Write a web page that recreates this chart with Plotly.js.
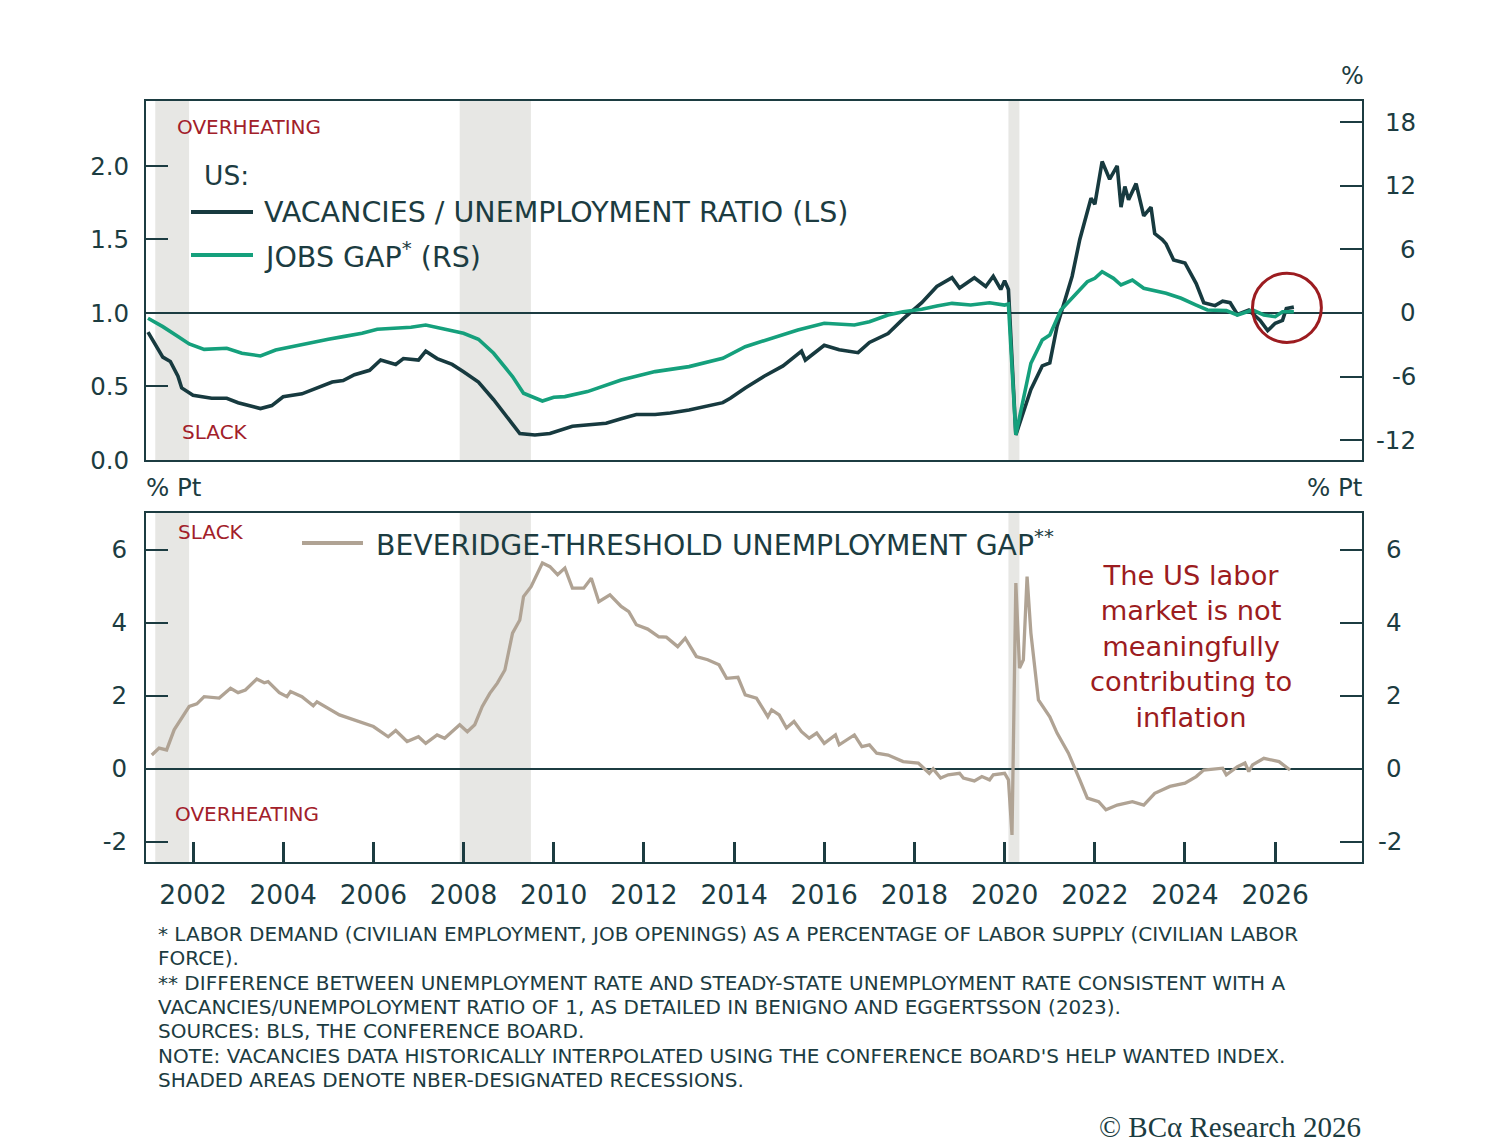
<!DOCTYPE html>
<html>
<head>
<meta charset="utf-8">
<script src="https://cdn.plot.ly/plotly-3.0.1.min.js"></script>
<style>
  html, body { margin: 0; padding: 0; background: #ffffff; }
  #chart { width: 1509px; height: 1144px; }
</style>
</head>
<body>
<div id="chart"></div>
<script>
  // vacancies / unemployment ratio (left scale, top panel)
  const vuDates = ['2001-01','2001-05','2001-07','2001-09','2001-10','2002-01','2002-06','2002-10','2003-01','2003-04',
    '2003-07','2003-10','2004-01','2004-06','2004-10','2005-02','2005-05','2005-08','2005-12','2006-03',
    '2006-07','2006-09','2007-01','2007-03','2007-06','2007-10','2008-01','2008-05','2008-09','2009-02',
    '2009-04','2009-08','2009-12','2010-06','2010-10','2011-03','2011-07','2011-11','2012-04','2012-08',
    '2013-01','2013-05','2013-10','2013-12','2014-04','2014-09','2015-02','2015-07','2015-08','2016-01',
    '2016-05','2016-10','2017-01','2017-06','2017-10','2018-03','2018-07','2018-11','2019-01','2019-05',
    '2019-08','2019-10','2019-12','2020-01','2020-02','2020-04','2020-08','2020-11','2021-01','2021-03',
    '2021-05','2021-07','2021-09','2021-12','2022-01','2022-03','2022-05','2022-07','2022-08','2022-09',
    '2022-10','2022-12','2023-02','2023-04','2023-05','2023-07','2023-08','2023-10','2024-01','2024-04',
    '2024-06','2024-09','2024-11','2025-01','2025-03','2025-06','2025-09','2025-11','2026-01','2026-03',
    '2026-04','2026-06'];
  const vuRatio = [0.87,0.70,0.67,0.57,0.49,0.44,0.42,0.42,0.39,0.37,
    0.35,0.37,0.43,0.45,0.49,0.53,0.54,0.58,0.61,0.68,
    0.65,0.69,0.68,0.74,0.69,0.65,0.60,0.53,0.41,0.25,
    0.18,0.17,0.18,0.23,0.24,0.25,0.28,0.31,0.31,0.32,
    0.34,0.36,0.39,0.42,0.49,0.57,0.64,0.74,0.68,0.78,
    0.75,0.73,0.80,0.86,0.96,1.07,1.18,1.24,1.17,1.24,
    1.18,1.25,1.16,1.22,1.16,0.17,0.48,0.64,0.66,0.91,
    1.07,1.25,1.50,1.78,1.74,2.03,1.91,2.00,1.72,1.86,
    1.77,1.88,1.66,1.72,1.54,1.50,1.47,1.36,1.34,1.20,
    1.07,1.05,1.08,1.07,0.99,1.02,0.95,0.88,0.93,0.95,
    1.03,1.04];

  // jobs gap, % (right scale, top panel)
  const gapDates = ['2001-01','2001-05','2001-09','2001-12','2002-04','2002-10','2003-02','2003-07','2003-11','2004-04',
    '2004-08','2005-01','2005-05','2005-10','2006-02','2006-06','2006-11','2007-03','2007-08','2008-01',
    '2008-05','2008-09','2009-02','2009-05','2009-10','2010-01','2010-04','2010-10','2011-07','2012-04',
    '2013-01','2013-10','2014-04','2014-11','2015-06','2016-01','2016-09','2017-01','2017-06','2017-10',
    '2018-03','2018-07','2018-11','2019-04','2019-09','2020-01','2020-02','2020-04','2020-08','2020-11',
    '2021-01','2021-04','2021-08','2021-11','2022-01','2022-03','2022-06','2022-08','2022-11','2023-02',
    '2023-08','2023-12','2024-04','2024-07','2024-12','2025-03','2025-07','2025-10','2026-01','2026-03',
    '2026-06'];
  const jobsGap = [-0.50,-1.29,-2.23,-2.92,-3.43,-3.33,-3.80,-4.05,-3.49,-3.11,
    -2.86,-2.48,-2.23,-1.92,-1.54,-1.45,-1.35,-1.13,-1.54,-1.92,
    -2.48,-3.80,-6.00,-7.57,-8.30,-7.95,-7.89,-7.42,-6.32,-5.53,
    -5.06,-4.27,-3.18,-2.39,-1.60,-0.97,-1.13,-0.82,-0.19,0.12,
    0.35,0.66,0.91,0.75,0.97,0.75,0.85,-11.5,-4.74,-2.55,
    -2.07,0.28,1.86,2.95,3.27,3.89,3.27,2.64,3.11,2.33,
    1.86,1.39,0.75,0.28,0.22,-0.19,0.28,-0.19,-0.35,0.12,
    0.12];

  // beveridge-threshold unemployment gap, % pt (bottom panel)
  const bevDates = ['2001-02','2001-04','2001-06','2001-08','2001-12','2002-02','2002-04','2002-08','2002-11','2003-01',
    '2003-03','2003-06','2003-08','2003-09','2003-12','2004-02','2004-03','2004-06','2004-09','2004-10',
    '2005-04','2005-08','2006-01','2006-05','2006-07','2006-10','2007-01','2007-03','2007-06','2007-08',
    '2007-12','2008-02','2008-04','2008-06','2008-08','2008-10','2008-12','2009-02','2009-04','2009-05',
    '2009-07','2009-10','2009-12','2010-02','2010-04','2010-06','2010-09','2010-11','2011-01','2011-04',
    '2011-07','2011-09','2011-11','2012-02','2012-05','2012-07','2012-10','2012-12','2013-03','2013-06',
    '2013-09','2013-11','2014-02','2014-04','2014-07','2014-10','2014-11','2015-01','2015-03','2015-05',
    '2015-07','2015-09','2015-11','2016-01','2016-04','2016-05','2016-09','2016-11','2017-01','2017-03',
    '2017-06','2017-10','2018-02','2018-05','2018-06','2018-08','2018-10','2019-01','2019-02','2019-05',
    '2019-07','2019-09','2019-10','2020-01','2020-02','2020-03','2020-04','2020-05','2020-06','2020-07',
    '2020-08','2020-10','2021-01','2021-03','2021-06','2021-09','2021-11','2022-02','2022-04','2022-07',
    '2022-11','2023-02','2023-05','2023-09','2024-01','2024-04','2024-06','2024-11','2024-12','2025-03',
    '2025-05','2025-06','2025-07','2025-10','2026-02','2026-05'];
  const bevGap = [0.38,0.57,0.52,1.07,1.71,1.78,1.98,1.94,2.21,2.09,
    2.16,2.46,2.36,2.39,2.09,1.98,2.12,1.98,1.73,1.84,
    1.48,1.34,1.16,0.88,1.05,0.75,0.88,0.70,0.93,0.84,
    1.21,1.02,1.21,1.71,2.07,2.35,2.71,3.72,4.08,4.72,
    4.99,5.64,5.54,5.32,5.50,4.95,4.95,5.22,4.58,4.77,
    4.45,4.31,3.95,3.83,3.62,3.61,3.35,3.58,3.08,2.99,
    2.85,2.48,2.51,2.03,1.94,1.43,1.62,1.48,1.12,1.30,
    1.02,0.84,0.98,0.70,0.93,0.66,0.93,0.61,0.66,0.43,
    0.38,0.20,0.16,-0.12,0.00,-0.25,-0.16,-0.12,-0.25,-0.33,
    -0.21,-0.30,-0.16,-0.12,-0.30,-1.81,5.09,2.76,2.99,5.27,
    3.72,1.89,1.43,0.98,0.43,-0.30,-0.80,-0.90,-1.12,-0.99,
    -0.90,-0.99,-0.67,-0.48,-0.39,-0.21,-0.03,0.02,-0.16,0.06,
    0.16,-0.07,0.11,0.29,0.20,-0.03];

  // NBER recessions
  const recessionStart = ['2001-03-01', '2007-12-01', '2020-02-01'];
  const recessionEnd = ['2001-11-30', '2009-06-30', '2020-04-30'];

  const yearLabels = ['2002','2004','2006','2008','2010','2012','2014','2016','2018','2020','2022','2024','2026'];
  const leftTopTicks = [0, 0.5, 1, 1.5, 2];
  const leftTopText = ['0.0', '0.5', '1.0', '1.5', '2.0'];
  const rightTopTicks = [-12, -6, 0, 6, 12, 18];
  const rightTopText = ['-12', '-6', '0', '6', '12', '18'];
  const bottomTicks = [-2, 0, 2, 4, 6];
  const bottomText = ['-2', '0', '2', '4', '6'];

  const footnotes = [
    '* LABOR DEMAND (CIVILIAN EMPLOYMENT, JOB OPENINGS) AS A PERCENTAGE OF LABOR SUPPLY (CIVILIAN LABOR',
    'FORCE).',
    '** DIFFERENCE BETWEEN UNEMPLOYMENT RATE AND STEADY-STATE UNEMPLOYMENT RATE CONSISTENT WITH A',
    'VACANCIES/UNEMPOLOYMENT RATIO OF 1, AS DETAILED IN BENIGNO AND EGGERTSSON (2023).',
    'SOURCES: BLS, THE CONFERENCE BOARD.',
    'NOTE: VACANCIES DATA HISTORICALLY INTERPOLATED USING THE CONFERENCE BOARD\'S HELP WANTED INDEX.',
    'SHADED AREAS DENOTE NBER-DESIGNATED RECESSIONS.'
  ];

  const ink = '#1c3c41';
  const red = '#a2202a';
  const W = 1509, H = 1144, L = 146, R = 147;
  const fx = p => (p - L) / (W - L - R);   // pixel -> paper x
  const fy = p => (H - p) / H;              // pixel -> paper y
  const font = '"DejaVu Sans", "Open Sans", sans-serif';
  const tickSize = 24.5;

  var traces = [
    {x: vuDates, y: vuRatio, xaxis: 'x', yaxis: 'y', type: 'scatter', mode: 'lines',
     line: {color: '#173a3f', width: 3.6}, hoverinfo: 'skip'},
    {x: gapDates, y: jobsGap, xaxis: 'x', yaxis: 'y2', type: 'scatter', mode: 'lines',
     line: {color: '#15a07c', width: 3.6}, hoverinfo: 'skip'},
    {x: bevDates, y: bevGap, xaxis: 'x2', yaxis: 'y3', type: 'scatter', mode: 'lines',
     line: {color: '#b0a394', width: 3.3}, hoverinfo: 'skip'},
    // empty trace so the bottom right axis is drawn
    {x: [], y: [], xaxis: 'x2', yaxis: 'y4', type: 'scatter', mode: 'lines', hoverinfo: 'skip'}
  ];

  var shapes = [];
  for (let i = 0; i < recessionStart.length; i++) {
    shapes.push({type: 'rect', xref: 'x', yref: 'y domain', x0: recessionStart[i], x1: recessionEnd[i],
      y0: 0, y1: 1, fillcolor: '#e7e7e4', line: {width: 0}, layer: 'below'});
    shapes.push({type: 'rect', xref: 'x2', yref: 'y3 domain', x0: recessionStart[i], x1: recessionEnd[i],
      y0: 0, y1: 1, fillcolor: '#e7e7e4', line: {width: 0}, layer: 'below'});
  }
  // legend samples
  shapes.push({type: 'line', xref: 'paper', yref: 'paper', x0: fx(191), x1: fx(253), y0: fy(212), y1: fy(212),
    line: {color: '#173a3f', width: 4}});
  shapes.push({type: 'line', xref: 'paper', yref: 'paper', x0: fx(191), x1: fx(253), y0: fy(255), y1: fy(255),
    line: {color: '#15a07c', width: 4}});
  shapes.push({type: 'line', xref: 'paper', yref: 'paper', x0: fx(302), x1: fx(363), y0: fy(543), y1: fy(543),
    line: {color: '#b0a394', width: 4}});
  // circle around latest readings
  shapes.push({type: 'circle', xref: 'x', yref: 'y', x0: '2025-07-01', x1: '2027-01-10', y0: 0.80, y1: 1.27,
    line: {color: '#9c1c20', width: 3}});

  function note(text, x, y, size, color, anchor, extra) {
    return Object.assign({text: text, xref: 'paper', yref: 'paper', x: fx(x), y: fy(y),
      xanchor: anchor || 'left', yanchor: 'middle', showarrow: false,
      font: {family: font, size: size, color: color || ink}}, extra || {});
  }

  var annotations = [
    note('%', 1352, 76, 24, ink, 'center'),
    note('% Pt', 144, 487, 24.5),
    note('% Pt', 1365, 487, 24.5, ink, 'right'),
    note('OVERHEATING', 175, 127, 20, red),
    note('SLACK', 180, 432, 20, red),
    note('US:', 202, 175, 26.5),
    note('VACANCIES / UNEMPLOYMENT RATIO (LS)', 262, 212, 28.5),
    note('JOBS GAP<sup>*</sup> (RS)', 262, 255, 28.5),
    note('SLACK', 176, 532, 20, red),
    note('OVERHEATING', 173, 814, 20, red),
    note('BEVERIDGE-THRESHOLD UNEMPLOYMENT GAP<sup>**</sup>', 374, 543, 28.3),
    note('The US labor<br>market is not<br>meaningfully<br>contributing to<br>inflation', 1191, 646, 27.3, '#9c1c20', 'center',
      {align: 'center'}),
    note('© BCα Research 2026', 1363, 1127, 26, ink, 'right',
      {font: {family: '"Liberation Serif", "DejaVu Serif", serif', size: 29, color: ink}})
  ];

  const footY = [934, 958, 983, 1007, 1031, 1056, 1080];
  footnotes.forEach((t, i) => annotations.push(note(t, 156, footY[i], 20, ink)));

  // right-hand tick labels, right-aligned as in the original
  rightTopTicks.forEach((v, i) => annotations.push({text: rightTopText[i], xref: 'paper', yref: 'y2',
    x: fx(1418), y: v, xanchor: 'right', yanchor: 'middle', showarrow: false,
    font: {family: font, size: tickSize, color: ink}}));
  bottomTicks.forEach((v, i) => annotations.push({text: bottomText[i], xref: 'paper', yref: 'y4',
    x: fx(1404), y: v, xanchor: 'right', yanchor: 'middle', showarrow: false,
    font: {family: font, size: tickSize, color: ink}}));

  var yBase = {
    showgrid: false, zeroline: false, showline: true, mirror: true, linecolor: ink, linewidth: 2,
    ticks: 'inside', ticklen: 22, tickwidth: 2, tickcolor: ink, fixedrange: true,
    tickfont: {family: font, size: tickSize, color: ink}
  };

  var layout = {
    width: W, height: H,
    margin: {l: L, r: R, t: 0, b: 0},
    paper_bgcolor: '#ffffff', plot_bgcolor: 'rgba(0,0,0,0)',
    showlegend: false,
    font: {family: font, color: ink},
    xaxis: {
      type: 'date', range: ['2000-12-16', '2027-12-05'], anchor: 'y', domain: [0, 1],
      showgrid: false, zeroline: false, showline: true, mirror: true, linecolor: ink, linewidth: 2,
      ticks: '', showticklabels: false
    },
    xaxis2: {
      type: 'date', matches: 'x', anchor: 'y3', domain: [0, 1],
      showgrid: false, zeroline: false, showline: true, mirror: true, linecolor: ink, linewidth: 2,
      ticks: 'inside', ticklen: 20, tickwidth: 3, tickcolor: ink,
      tickmode: 'array', tickvals: yearLabels.map(y => y + '-01-01'), ticktext: yearLabels,
      tickfont: {family: font, size: 26.5, color: ink}, ticklabelstandoff: 8
    },
    yaxis: Object.assign({}, yBase, {
      domain: [fy(460), fy(101)], range: [0, 2.442], anchor: 'x', side: 'left',
      tickmode: 'array', tickvals: leftTopTicks, ticktext: leftTopText, ticklabelstandoff: 10
    }),
    yaxis2: Object.assign({}, yBase, {
      domain: [fy(460), fy(101)], range: [-13.87, 20.0], overlaying: 'y', anchor: 'x', side: 'right',
      tickmode: 'array', tickvals: rightTopTicks, showticklabels: false,
      zeroline: true, zerolinecolor: ink, zerolinewidth: 1.5
    }),
    yaxis3: Object.assign({}, yBase, {
      domain: [fy(862), fy(513)], range: [-2.55, 7.01], anchor: 'x2', side: 'left',
      tickmode: 'array', tickvals: bottomTicks, ticktext: bottomText, ticklabelstandoff: 12,
      zeroline: true, zerolinecolor: ink, zerolinewidth: 1.5
    }),
    yaxis4: Object.assign({}, yBase, {
      domain: [fy(862), fy(513)], range: [-2.55, 7.01], overlaying: 'y3', anchor: 'x2', side: 'right',
      tickmode: 'array', tickvals: bottomTicks, showticklabels: false
    }),
    shapes: shapes,
    annotations: annotations
  };

  Plotly.newPlot('chart', traces, layout, {staticPlot: true});
</script>
</body>
</html>
